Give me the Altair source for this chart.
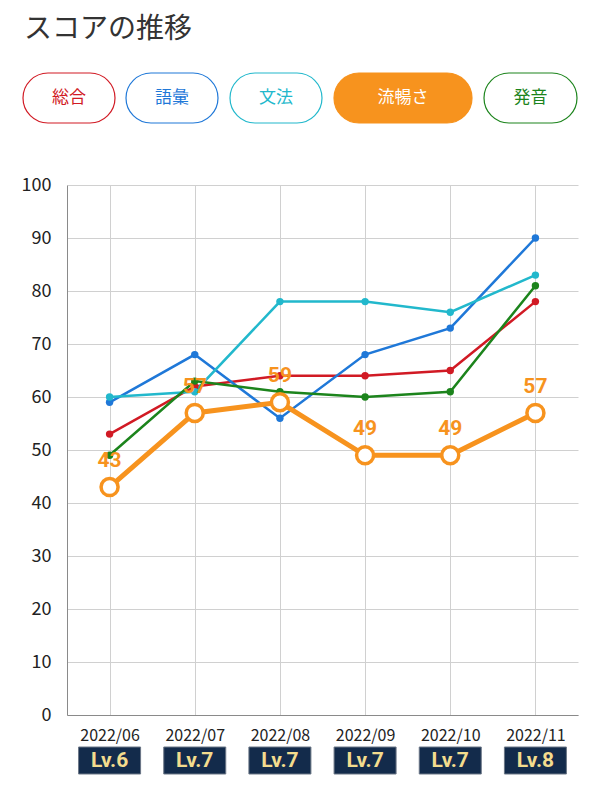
import altair as alt
import pandas as pd

# ---- data ----
months = ["2022/06", "2022/07", "2022/08", "2022/09", "2022/10", "2022/11"]
levels = ["Lv.6", "Lv.7", "Lv.7", "Lv.7", "Lv.7", "Lv.8"]
series_names = ["総合", "語彙", "文法", "流暢さ", "発音"]
sogo = [53, 62, 64, 64, 65, 78]
goi = [59, 68, 56, 68, 73, 90]
bunpo = [60, 61, 78, 78, 76, 83]
ryucho = [43, 57, 59, 49, 49, 57]
hatsuon = [49, 63, 61, 60, 61, 81]
series_values = [sogo, goi, bunpo, ryucho, hatsuon]
colors = ["#d11a24", "#1f78d8", "#22b8cc", "#f7931e", "#1c841c"]
selected = "流暢さ"

FONT = "Roboto, 'Noto Sans CJK JP', sans-serif"
JFONT = "'Noto Sans CJK JP', Roboto, sans-serif"
NARROW = "'Liberation Sans Narrow', Roboto, sans-serif"

rows = []
for name, vals in zip(series_names, series_values):
    for m, v in zip(months, vals):
        rows.append({"month": m, "series": name, "score": v})
df = pd.DataFrame(rows)
others = df[df.series != selected]
sel = df[df.series == selected]

W, H = 511, 530
xscale = alt.Scale(type="point", padding=0.5, domain=months)
yscale = alt.Scale(domain=[0, 100])
cscale = alt.Scale(domain=series_names, range=colors)

x_enc = alt.X("month:O", scale=xscale, sort=months,
              axis=alt.Axis(title=None, labelAngle=0, ticks=False, labelPadding=12,
                            labelFontSize=16, labelColor="#222", labelFont=JFONT,
                            grid=True, gridColor="#d0d0d0", domainColor="#8a8a8a",
                            labelBaseline="top"))
y_enc = alt.Y("score:Q", scale=yscale,
              axis=alt.Axis(title=None, values=list(range(0, 101, 10)), ticks=False,
                            labelPadding=16, labelFontSize=18, labelColor="#222",
                            labelFont=JFONT, gridColor="#d0d0d0", domainColor="#8a8a8a"))

other_lines = alt.Chart(others).mark_line(strokeWidth=2.5).encode(
    x=x_enc, y=y_enc,
    color=alt.Color("series:N", scale=cscale, legend=None),
    detail="series:N")
other_pts = alt.Chart(others).mark_point(filled=True, size=55, opacity=1).encode(
    x=alt.X("month:O", scale=xscale, sort=months),
    y=alt.Y("score:Q", scale=yscale),
    color=alt.Color("series:N", scale=cscale, legend=None))

sel_line = alt.Chart(sel).mark_line(strokeWidth=5, color=colors[3]).encode(
    x=alt.X("month:O", scale=xscale, sort=months),
    y=alt.Y("score:Q", scale=yscale))
sel_pts = alt.Chart(sel).mark_point(filled=True, fill="white", stroke=colors[3],
                                    strokeWidth=3.5, size=290, opacity=1,
                                    fillOpacity=1).encode(
    x=alt.X("month:O", scale=xscale, sort=months),
    y=alt.Y("score:Q", scale=yscale))
sel_lbl = alt.Chart(sel).mark_text(dy=-26, fontSize=21, fontWeight="bold",
                                   color=colors[3], font=FONT).encode(
    x=alt.X("month:O", scale=xscale, sort=months),
    y=alt.Y("score:Q", scale=yscale),
    text="score:Q")

# level badges under the x axis
lv = pd.DataFrame({"month": months, "level": levels})
badges = alt.Chart(lv).mark_bar(width=62, color="#132b4b", stroke="#6b7686",
                                strokeWidth=1).encode(
    x=alt.X("month:O", scale=xscale, sort=months),
    y=alt.value(562), y2=alt.value(589))
badge_txt = alt.Chart(lv).mark_text(fontSize=21, fontWeight="bold", color="#f3dc8e",
                                    font=NARROW, baseline="middle").encode(
    x=alt.X("month:O", scale=xscale, sort=months),
    y=alt.value(576), text="level:N")

# title and series pills (layout constants relative to the plot origin)
OX = 67
pill_left = [23, 126, 230, 334, 484]
pill_right = [115, 218, 322, 472, 577]
pills = pd.DataFrame({
    "series": series_names,
    "x0": [v - OX for v in pill_left],
    "x1": [v - OX for v in pill_right],
})
pills["xc"] = (pills.x0 + pills.x1) / 2
pills["fill"] = [colors[i] if n == selected else "white" for i, n in enumerate(series_names)]
pills["stroke"] = colors
pills["tcolor"] = ["white" if n == selected else colors[i] for i, n in enumerate(series_names)]

pill_rect = alt.Chart(pills).mark_rect(cornerRadius=25, strokeWidth=1.2).encode(
    x=alt.X("x0:Q", scale=None), x2="x1:Q",
    y=alt.value(-112), y2=alt.value(-62),
    fill=alt.Fill("fill:N", scale=None),
    stroke=alt.Stroke("stroke:N", scale=None))
pill_txt = alt.Chart(pills).mark_text(fontSize=17, font=JFONT, baseline="middle").encode(
    x=alt.X("xc:Q", scale=None), y=alt.value(-87),
    text="series:N",
    color=alt.Color("tcolor:N", scale=None))

title = alt.Chart(pd.DataFrame({"t": ["スコアの推移"]})).mark_text(
    fontSize=28, font=JFONT, color="#333", align="left", baseline="middle",
    fontWeight="normal").encode(
    x=alt.value(24 - OX), y=alt.value(-155), text="t:N")

chart = alt.layer(
    other_lines, other_pts, sel_line, sel_pts, sel_lbl,
    badges, badge_txt, pill_rect, pill_txt, title
).resolve_scale(x="shared", y="shared").properties(
    width=W, height=H,
    autosize=alt.AutoSizeParams(type="none"),
    padding={"left": 67, "top": 185, "right": 22, "bottom": 73},
    background="white",
).configure_view(stroke=None)

chart.save("out.html", embed_options={"renderer": "svg", "actions": False})
